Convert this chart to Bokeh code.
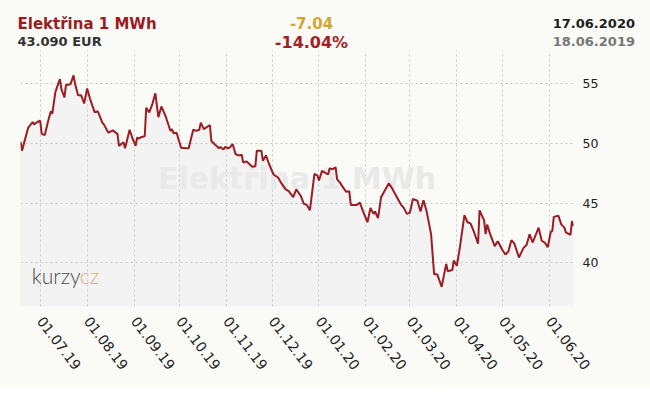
import math
import pandas as pd
from bokeh.plotting import figure
from bokeh.models import Range1d, FixedTicker, DatetimeTickFormatter, Label, Div, ColumnDataSource
from bokeh.layouts import column
from bokeh.embed import file_html
from bokeh.resources import INLINE
from bokeh.core.properties import value

# ---------------- data ----------------
title = "Elektřina 1 MWh"
price = "43.090 EUR"
change = "-7.04"
change_pct = "-14.04%"
date_to = "17.06.2020"
date_from = "18.06.2019"

dates = [
    "2019-06-18", "2019-06-19", "2019-06-23", "2019-06-26", "2019-06-27", "2019-06-29", "2019-07-01", "2019-07-02", "2019-07-04", "2019-07-06",
    "2019-07-08", "2019-07-09", "2019-07-11", "2019-07-14", "2019-07-15", "2019-07-17", "2019-07-18", "2019-07-21", "2019-07-23", "2019-07-24",
    "2019-07-26", "2019-07-28", "2019-07-30", "2019-08-01", "2019-08-03", "2019-08-06", "2019-08-08", "2019-08-11", "2019-08-12", "2019-08-15",
    "2019-08-18", "2019-08-21", "2019-08-22", "2019-08-25", "2019-08-26", "2019-08-27", "2019-08-29", "2019-08-31", "2019-09-02", "2019-09-03",
    "2019-09-04", "2019-09-06", "2019-09-08", "2019-09-09", "2019-09-11", "2019-09-13", "2019-09-15", "2019-09-17", "2019-09-19", "2019-09-22",
    "2019-09-25", "2019-09-26", "2019-09-27", "2019-09-29", "2019-10-02", "2019-10-05", "2019-10-07", "2019-10-10", "2019-10-12", "2019-10-14",
    "2019-10-15", "2019-10-17", "2019-10-21", "2019-10-22", "2019-10-24", "2019-10-27", "2019-10-28", "2019-10-30", "2019-10-31", "2019-11-02",
    "2019-11-03", "2019-11-05", "2019-11-07", "2019-11-09", "2019-11-11", "2019-11-12", "2019-11-14", "2019-11-15", "2019-11-18", "2019-11-20",
    "2019-11-21", "2019-11-24", "2019-11-25", "2019-11-27", "2019-11-29", "2019-12-02", "2019-12-05", "2019-12-07", "2019-12-10", "2019-12-12",
    "2019-12-15", "2019-12-17", "2019-12-20", "2019-12-22", "2019-12-24", "2019-12-26", "2019-12-29", "2019-12-31", "2020-01-01", "2020-01-03",
    "2020-01-05", "2020-01-07", "2020-01-08", "2020-01-10", "2020-01-12", "2020-01-13", "2020-01-15", "2020-01-17", "2020-01-19", "2020-01-21",
    "2020-01-22", "2020-01-26", "2020-01-28", "2020-01-30", "2020-02-02", "2020-02-04", "2020-02-06", "2020-02-07", "2020-02-09", "2020-02-11",
    "2020-02-16", "2020-02-18", "2020-02-21", "2020-02-24", "2020-02-26", "2020-02-28", "2020-03-01", "2020-03-03", "2020-03-06", "2020-03-08",
    "2020-03-10", "2020-03-12", "2020-03-15", "2020-03-17", "2020-03-19", "2020-03-22", "2020-03-24", "2020-03-25", "2020-03-26", "2020-03-29",
    "2020-03-30", "2020-04-01", "2020-04-03", "2020-04-06", "2020-04-08", "2020-04-10", "2020-04-12", "2020-04-15", "2020-04-16", "2020-04-19",
    "2020-04-20", "2020-04-21", "2020-04-23", "2020-04-26", "2020-04-28", "2020-05-01", "2020-05-03", "2020-05-05", "2020-05-07", "2020-05-09",
    "2020-05-12", "2020-05-15", "2020-05-17", "2020-05-19", "2020-05-21", "2020-05-25", "2020-05-27", "2020-05-29", "2020-05-31", "2020-06-02",
    "2020-06-03", "2020-06-04", "2020-06-07", "2020-06-09", "2020-06-11", "2020-06-12", "2020-06-15", "2020-06-16", "2020-06-17",
]

prices = [
    50.15, 49.4, 51.3, 51.8, 51.6, 51.8, 51.9, 50.8, 50.7, 51.75,
    52.7, 52.5, 54.3, 55.4, 54.55, 53.85, 54.9, 54.97, 55.7, 55.0,
    54.05, 54.05, 53.35, 54.6, 53.7, 52.6, 52.7, 51.75, 51.6, 50.9,
    51.1, 50.8, 49.8, 50.1, 49.6, 50.1, 51.15, 50.4, 49.8, 50.5,
    50.4, 50.55, 50.6, 53.0, 52.6, 53.3, 54.2, 52.2, 53.1, 52.2,
    51.05, 51.2, 50.85, 50.9, 49.65, 49.6, 49.6, 51.15, 51.05, 51.15,
    51.75, 51.2, 51.55, 50.2, 49.95, 49.6, 49.7, 49.5, 49.7, 49.6,
    49.65, 49.95, 49.1, 49.0, 49.05, 48.4, 48.5, 48.4, 48.05, 48.1,
    49.4, 49.4, 48.55, 49.0, 48.3, 47.4, 47.15, 46.7, 46.15, 46.0,
    45.5, 46.15, 45.6, 44.95, 44.85, 44.4, 47.45, 47.3, 46.9, 47.7,
    47.55, 47.4, 47.9, 47.85, 48.0, 47.0, 46.7, 46.3, 45.95, 46.0,
    44.85, 44.85, 45.05, 44.35, 43.4, 44.6, 44.1, 44.3, 43.75, 45.5,
    46.65, 46.3, 45.6, 44.9, 44.6, 44.1, 44.2, 45.35, 45.2, 44.3,
    45.25, 44.35, 42.4, 39.05, 39.05, 37.98, 39.3, 39.9, 39.3, 39.4,
    40.2, 39.75, 41.3, 44.0, 43.4, 43.3, 42.7, 41.6, 44.4, 43.55,
    42.4, 43.2, 42.4, 41.4, 41.8, 41.1, 40.7, 40.95, 41.9, 41.6,
    40.45, 41.25, 41.5, 42.4, 41.7, 42.95, 41.85, 41.7, 41.3, 42.6,
    42.65, 43.85, 43.95, 43.2, 42.95, 42.55, 42.35, 43.5, 43.09,
]

x_tick_dates = ["2019-07-01", "2019-08-01", "2019-09-01", "2019-10-01", "2019-11-01", "2019-12-01",
                "2020-01-01", "2020-02-01", "2020-03-01", "2020-04-01", "2020-05-01", "2020-06-01"]
y_ticks = [40, 45, 50, 55]
y_min, y_max = 36.34, 57.79

# ---------------- styling ----------------
BG = "#fafaf7"
LINE = "#9b1c22"
GRID = "#c6c6c6"

n = min(len(dates), len(prices))
xs = pd.to_datetime(dates[:n])
src = ColumnDataSource(dict(x=xs, y=prices[:n]))

def ms(ts):
    return ts.value / 1e6

x0, x1 = ms(xs[0]), ms(xs[-1])

p = figure(width=650, height=340, x_axis_type="datetime", y_axis_location="right",
           output_backend="svg", toolbar_location=None,
           x_range=Range1d(x0, x1), y_range=Range1d(y_min, y_max),
           min_border_left=20, min_border_right=77, min_border_top=2, min_border_bottom=82,
           background_fill_color=BG, border_fill_color=BG, outline_line_color=None)

area = p.varea(x="x", y1=y_min, y2="y", source=src, fill_color="#f3f3f3", level="image")

tick_ms = [ms(pd.Timestamp(d)) for d in x_tick_dates]
p.xaxis.ticker = FixedTicker(ticks=tick_ms)
fmt = "%d.%m.%y"
p.xaxis.formatter = DatetimeTickFormatter(milliseconds=fmt, seconds=fmt, minsec=fmt, minutes=fmt,
                                          hourmin=fmt, hours=fmt, days=fmt, months=fmt, years=fmt)
p.xaxis.major_label_orientation = -0.92
p.yaxis.ticker = FixedTicker(ticks=y_ticks)

for ax in (p.xaxis, p.yaxis):
    ax.axis_line_color = None
    ax.major_tick_line_color = None
    ax.minor_tick_line_color = None
    ax.major_tick_out = 0
    ax.major_tick_in = 0
    ax.minor_tick_out = 0
    ax.major_label_text_font = "DejaVu Sans"
    ax.major_label_text_color = "#222222"
p.xaxis.major_label_text_font_size = "14px"
p.xaxis.major_label_standoff = 12
p.yaxis.major_label_text_font_size = "12.5px"
p.yaxis.major_label_standoff = 9

p.xgrid.ticker = FixedTicker(ticks=tick_ms)
p.ygrid.ticker = FixedTicker(ticks=y_ticks)
for g in (p.xgrid, p.ygrid):
    g.grid_line_color = GRID
    g.grid_line_dash = "2 3"
    g.grid_line_width = 1

# watermark
wm = Label(x=(x0 + x1) / 2, y=(y_min + y_max) / 2, text=title, text_align="center", text_baseline="middle",
           text_font="DejaVu Sans", text_font_style="bold", text_font_size="30px", text_color="#e9e9e9",
           level="underlay")
p.add_layout(wm)

# logo
lx = x0 + 0.0203 * (x1 - x0)
logo1 = Label(x=lx, y=38.97, text="kurzy", text_align="left", text_baseline="alphabetic",
              text_font="Lato Light", text_font_size="21px", text_color="#4a4a4a", level="underlay")
logo2 = Label(x=lx, y=38.97, x_offset=48, text="cz", text_align="left", text_baseline="alphabetic",
              text_font="Lato Light", text_font_size="21px", text_color="#d6b26a", level="underlay")
p.add_layout(logo1)
p.add_layout(logo2)

p.line(x="x", y="y", source=src, line_color=LINE, line_width=2)

hdr = f'''<div style="position:relative;width:650px;height:48px;font-family:'DejaVu Sans',sans-serif;font-weight:bold;">
<div style="position:absolute;left:17.5px;top:15px;font-size:15px;line-height:18px;color:#9b1b1f;white-space:nowrap;">{title}</div>
<div style="position:absolute;left:17.5px;top:33px;font-size:13px;line-height:18px;color:#333333;white-space:nowrap;">{price}</div>
<div style="position:absolute;left:311.5px;top:15px;transform:translateX(-50%);font-size:15px;line-height:18px;color:#d2a730;white-space:nowrap;">{change}</div>
<div style="position:absolute;left:311.5px;top:34px;transform:translateX(-50%);font-size:16px;line-height:18px;color:#a31f24;white-space:nowrap;">{change_pct}</div>
<div style="position:absolute;right:15px;top:14.5px;font-size:13px;line-height:18px;color:#1e1e1e;white-space:nowrap;">{date_to}</div>
<div style="position:absolute;right:15px;top:32.5px;font-size:13px;line-height:18px;color:#777777;white-space:nowrap;">{date_from}</div>
</div>'''
div = Div(text=hdr, width=650, height=48, margin=0, styles={"background-color": BG})

layout = column(div, p, spacing=0, styles={"background-color": BG})
html = file_html(layout, INLINE)
html = html.replace("<body>", f'<body style="background-color:{BG};">', 1)
open("out.html", "w").write(html)
